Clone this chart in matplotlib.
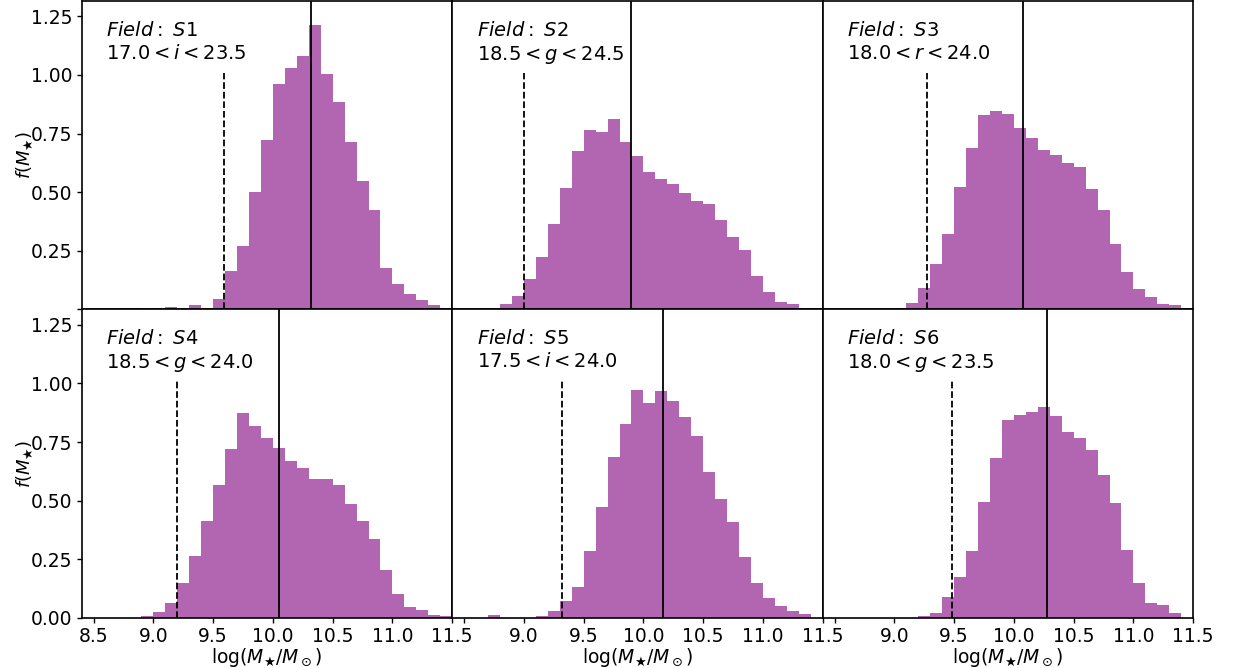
import numpy as np
import matplotlib
matplotlib.use("Agg")
import matplotlib.pyplot as plt

# Common histogram binning in log stellar mass
bin_edges = np.round(np.arange(8.4, 11.55, 0.1), 1)

fields = ["S1", "S2", "S3", "S4", "S5", "S6"]
bands = ["i", "g", "r", "g", "i", "g"]
mag_lo = ["17.0", "18.5", "18.0", "18.5", "17.5", "18.0"]
mag_hi = ["23.5", "24.5", "24.0", "24.0", "24.0", "23.5"]

# Normalised mass functions, one value per bin (8.4 ... 11.4 lower edges)
f_s1 = [0, 0, 0, 0.004, 0.004, 0, 0.004, 0.011, 0, 0.017, 0,
        0.045, 0.165, 0.269, 0.499, 0.724, 0.961, 1.030, 1.079, 1.213, 1.003,
        0.885, 0.715, 0.548, 0.422, 0.178, 0.107, 0.064, 0.038, 0.017, 0.004]
f_s2 = [0, 0, 0.003, 0.007, 0.021, 0.058, 0.128, 0.222, 0.364, 0.516, 0.674,
        0.765, 0.757, 0.811, 0.714, 0.653, 0.584, 0.557, 0.536, 0.495, 0.461,
        0.448, 0.380, 0.309, 0.253, 0.141, 0.074, 0.031, 0.021, 0.006, 0.003]
f_s3 = [0, 0, 0, 0, 0, 0, 0.006, 0.027, 0.091, 0.195, 0.320,
        0.520, 0.688, 0.830, 0.846, 0.832, 0.772, 0.731, 0.678, 0.660, 0.624,
        0.607, 0.513, 0.425, 0.277, 0.159, 0.088, 0.053, 0.023, 0.016, 0.006]
f_s4 = [0, 0, 0, 0, 0, 0.007, 0.023, 0.061, 0.149, 0.263, 0.414,
        0.565, 0.722, 0.875, 0.818, 0.767, 0.724, 0.670, 0.641, 0.593, 0.590,
        0.566, 0.484, 0.414, 0.334, 0.202, 0.102, 0.044, 0.031, 0.013, 0.006]
f_s5 = [0, 0, 0, 0.010, 0, 0, 0, 0.009, 0.028, 0.073, 0.131,
        0.283, 0.471, 0.687, 0.826, 0.970, 0.917, 0.966, 0.927, 0.856, 0.774,
        0.624, 0.505, 0.407, 0.257, 0.149, 0.084, 0.050, 0.027, 0.014, 0]
f_s6 = [0, 0, 0, 0, 0, 0, 0, 0, 0.006, 0.018, 0.088,
        0.172, 0.283, 0.492, 0.683, 0.842, 0.867, 0.877, 0.900, 0.863, 0.792,
        0.767, 0.714, 0.610, 0.488, 0.290, 0.148, 0.064, 0.055, 0.021, 0]
mass_functions = [f_s1, f_s2, f_s3, f_s4, f_s5, f_s6]

# Completeness limits (dashed) and medians (solid)
mass_limit = [9.59, 9.00, 9.27, 9.20, 9.32, 9.48]
mass_median = [10.32, 9.90, 10.08, 10.05, 10.16, 10.28]

x_ticks = [8.5, 9.0, 9.5, 10.0, 10.5, 11.0, 11.5]
y_ticks = [0.00, 0.25, 0.50, 0.75, 1.00, 1.25]

W, H = 1242, 668
fig = plt.figure(figsize=(W / 100, H / 100), dpi=100)

left0 = 81.7 / W
pw = 370.5 / W
ph = 308.5 / H
bottoms = [1 - 309.2 / H, 1 - 617.7 / H]

for k in range(6):
    row, col = divmod(k, 3)
    ax = fig.add_axes([left0 + col * pw, bottoms[row], pw, ph])
    ax.bar(bin_edges[:-1], mass_functions[k], width=0.1, align="edge",
           color="purple", alpha=0.6, linewidth=0)
    ax.axvline(mass_median[k], color="black", lw=1.3)
    ax.vlines(mass_limit[k], 0, 1.01, colors="black", linestyles="dashed", lw=1.3)
    ax.set_xlim(8.4, 11.5)
    ax.set_ylim(0, 1.317)
    for s in ax.spines.values():
        s.set_linewidth(1.2)

    ax.text(0.066, 0.935,
            r"$Field:\ %s$" % fields[k] + "\n" +
            r"$%s < %s < %s$" % (mag_lo[k], bands[k], mag_hi[k]),
            transform=ax.transAxes, ha="left", va="top", fontsize=14,
            linespacing=1.25)

    ax.set_xticks(x_ticks)
    ax.set_yticks(y_ticks)
    ax.tick_params(labelsize=13.5, length=3.5, width=1.0, pad=3)
    if row == 0:
        ax.tick_params(axis="x", bottom=False, labelbottom=False)
    else:
        labels = ["%.1f" % t for t in x_ticks]
        if col > 0:
            labels[0] = ""
        ax.set_xticklabels(labels)
        ax.set_xlabel(r"$\log(M_\bigstar/M_\odot)$", fontsize=13.5, labelpad=0)
    if col == 0:
        labels = ["%.2f" % t for t in y_ticks]
        if row == 0:
            labels[0] = ""
        ax.set_yticklabels(labels)
        ax.set_ylabel(r"$f(M_\bigstar)$", fontsize=13)
        ax.yaxis.set_label_coords(-0.126, 0.5)
    else:
        ax.tick_params(axis="y", left=False, labelleft=False)

fig.savefig("out.png", dpi=100)
